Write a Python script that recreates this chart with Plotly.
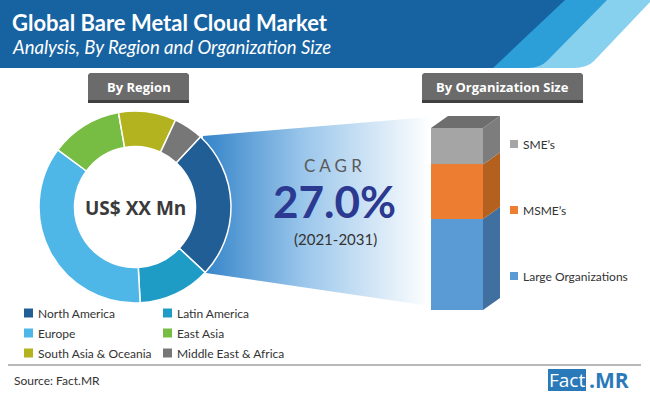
import plotly.graph_objects as go

# ---------------- data ----------------
regions = ["North America", "Latin America", "Europe", "East Asia",
           "South Asia & Oceania", "Middle East & Africa"]
region_share = [25.0, 12.2, 36.0, 12.1, 9.7, 5.0]
region_colors = ["#225e96", "#1f9cc6", "#4fb7e7", "#77bd43", "#b3b31f", "#777777"]

org_sizes = ["Large Organizations", "MSME\u2019s", "SME\u2019s"]
org_share = [50, 30, 20]
org_front = ["#5b9bd5", "#ed7d31", "#a5a5a5"]
org_side = ["#3f70a0", "#b4611f", "#7d7d7d"]
org_top = "#6e6e6e"

title = "Global Bare Metal Cloud Market"
subtitle = "Analysis, By Region and Organization Size"
center_label = "US$ XX Mn"
cagr_label = "C A G R"
cagr_value = "27.0%"
cagr_period = "(2021-2031)"
source = "Source: Fact.MR"

W, H = 650, 395
FONT_HEAD = "Lato"
FONT_BODY = "Lato"
FONT_BOX = "Open Sans"

fig = go.Figure()

# gradient funnel linking the North America slice to the bar
fig.add_trace(go.Scatter(
    x=[203, 430, 430, 206, 203], y=[136, 117, 306, 273, 136],
    xaxis="x2", yaxis="y2", mode="lines", line=dict(width=0),
    fill="toself",
    fillgradient=dict(type="horizontal", start=203, stop=430,
                      colorscale=[[0, "#3484c9"], [0.45, "#9cc7eb"], [1, "#ffffff"]]),
    hoverinfo="skip", showlegend=False))

# donut
fig.add_trace(go.Pie(
    labels=regions, values=region_share, sort=False, direction="clockwise",
    rotation=43, hole=0.63, textinfo="none", hoverinfo="label+percent",
    marker=dict(colors=region_colors, line=dict(color="white", width=1.5)),
    domain=dict(x=[38 / W, 232 / W], y=[1 - 303 / H, 1 - 111 / H]),
    showlegend=False))

# stacked bar (front faces)
BAR_X, BAR_W = 457, 52
for name, v, c in zip(org_sizes, org_share, org_front):
    fig.add_trace(go.Bar(x=[BAR_X], y=[v], width=BAR_W, name=name,
                         marker=dict(color=c, line=dict(width=0)),
                         xaxis="x", yaxis="y", showlegend=False))

shapes = []
annos = []

# header
shapes.append(dict(type="rect", xref="x2", yref="y2", x0=0, x1=650, y0=0, y1=68,
                   fillcolor="#1763a2", line=dict(width=0), layer="below"))
shapes.append(dict(type="path", xref="x2", yref="y2",
                   path="M 493,68 L 565,0 L 650,0 L 650,68 Z",
                   fillcolor="#2c9fd8", line=dict(width=0), layer="below"))
shapes.append(dict(type="path", xref="x2", yref="y2",
                   path="M 528,68 Q 540,68 547,61 L 607,0 L 650,0 L 650,68 Z",
                   fillcolor="#88d1ee", line=dict(width=0), layer="below"))
shapes.append(dict(type="path", xref="x2", yref="y2",
                   path="M 574,68 Q 587,68 594,61 L 652,0 L 652,68 Z",
                   fillcolor="#ffffff", line=dict(width=0), layer="below"))
annos.append(dict(x=10, y=22, xref="x2", yref="y2", text="<b>" + title + "</b>",
                  showarrow=False, xanchor="left", yanchor="middle",
                  font=dict(family=FONT_HEAD, size=22, color="white")))
annos.append(dict(x=10, y=47, xref="x2", yref="y2", text="<i>" + subtitle + "</i>",
                  showarrow=False, xanchor="left", yanchor="middle",
                  font=dict(family=FONT_HEAD, size=18.5, color="white")))


def rbox(x0, x1, y0, y1, r, color):
    return dict(type="path", xref="x2", yref="y2",
                path=(f"M {x0},{y1} L {x0},{y0 + r} Q {x0},{y0} {x0 + r},{y0} "
                      f"L {x1 - r},{y0} Q {x1},{y0} {x1},{y0 + r} L {x1},{y1} Z"),
                fillcolor=color, line=dict(width=0), layer="above")


for (x0, x1, label) in [(88, 189, "By Region"), (422, 583, "By Organization Size")]:
    shapes.append(rbox(x0, x1, 73, 103, 4, "#3f3f3f"))
    shapes.append(rbox(x0, x1, 73, 100, 4, "#6b6b6b"))
    annos.append(dict(x=(x0 + x1) / 2, y=87, xref="x2", yref="y2",
                      text="<b>" + label + "</b>", showarrow=False,
                      font=dict(family=FONT_BOX, size=13, color="white")))

# donut centre text
annos.append(dict(x=135, y=208, xref="x2", yref="y2", text="<b>" + center_label + "</b>",
                  showarrow=False, font=dict(family=FONT_BOX, size=19, color="#3a3a3a")))

# CAGR block
annos.append(dict(x=333, y=165, xref="x2", yref="y2", text=cagr_label, showarrow=False,
                  font=dict(family=FONT_HEAD, size=17, color="#5a5a5a")))
annos.append(dict(x=334, y=201, xref="x2", yref="y2", text="<b>" + cagr_value + "</b>",
                  showarrow=False, font=dict(family=FONT_HEAD, size=44, color="#2b3990")))
annos.append(dict(x=335, y=239, xref="x2", yref="y2", text=cagr_period, showarrow=False,
                  font=dict(family=FONT_HEAD, size=15, color="#333333")))

# region legend (2 columns)
for i, (name, col) in enumerate(zip(regions, region_colors)):
    cx = [24, 163][i % 2]
    cy = [313, 333, 353][i // 2]
    shapes.append(dict(type="rect", xref="x2", yref="y2", x0=cx, x1=cx + 9,
                       y0=cy - 4.5, y1=cy + 4.5, fillcolor=col, line=dict(width=0)))
    annos.append(dict(x=cx + 12, y=cy, xref="x2", yref="y2", text=name, showarrow=False,
                      xanchor="left", yanchor="middle",
                      font=dict(family=FONT_BODY, size=12, color="#333333")))

# 3D faces of the bar (in bar-axis units)
PX_PER_UNIT = 1.82
DX = 17
DY = 12 / PX_PER_UNIT
x1 = BAR_X + BAR_W / 2
x0 = BAR_X - BAR_W / 2
base = 0
for v, c in zip(org_share, org_side):
    top = base + v
    shapes.append(dict(type="path", xref="x", yref="y",
                       path=(f"M {x1},{base} L {x1 + DX},{base + DY} "
                             f"L {x1 + DX},{top + DY} L {x1},{top} Z"),
                       fillcolor=c, line=dict(width=0)))
    base = top
shapes.append(dict(type="path", xref="x", yref="y",
                   path=(f"M {x0},{base} L {x1},{base} L {x1 + DX},{base + DY} "
                         f"L {x0 + DX},{base + DY} Z"),
                   fillcolor=org_top, line=dict(width=0)))

# bar legend
for name, col, cy in zip(org_sizes, org_front, [276, 210, 144]):
    shapes.append(dict(type="rect", xref="x2", yref="y2", x0=510, x1=518,
                       y0=cy - 4, y1=cy + 4, fillcolor=col, line=dict(width=0)))
    annos.append(dict(x=521, y=cy, xref="x2", yref="y2", text=name, showarrow=False,
                      xanchor="left", yanchor="middle",
                      font=dict(family=FONT_BODY, size=12, color="#333333")))

# footer
shapes.append(dict(type="line", xref="x2", yref="y2", x0=8, x1=641, y0=365, y1=365,
                   line=dict(color="#a0a0a0", width=1.5)))
annos.append(dict(x=12, y=380, xref="x2", yref="y2", text=source, showarrow=False,
                  xanchor="left", yanchor="middle",
                  font=dict(family=FONT_BODY, size=12, color="#333333")))
shapes.append(dict(type="rect", xref="x2", yref="y2", x0=548, x1=586, y0=369, y1=391,
                   fillcolor="#2a7ab9", line=dict(width=0)))
annos.append(dict(x=567, y=380, xref="x2", yref="y2", text="Fact", showarrow=False,
                  font=dict(family=FONT_BOX, size=19, color="white")))
annos.append(dict(x=587, y=380, xref="x2", yref="y2", text="<b>.MR</b>", showarrow=False,
                  xanchor="left", yanchor="middle",
                  font=dict(family=FONT_BOX, size=21, color="#2a7ab9")))

fig.update_layout(
    width=W, height=H, margin=dict(l=0, r=0, t=0, b=0),
    paper_bgcolor="white", plot_bgcolor="rgba(0,0,0,0)",
    barmode="stack", bargap=0,
    xaxis=dict(domain=[420 / W, 520 / W], range=[420, 520], visible=False, fixedrange=True),
    yaxis=dict(domain=[1 - 310 / H, 1 - 100 / H], range=[0, 210 / PX_PER_UNIT],
               visible=False, fixedrange=True),
    xaxis2=dict(domain=[0, 1], range=[0, W], visible=False, anchor="y2", fixedrange=True),
    yaxis2=dict(domain=[0, 1], range=[H, 0], visible=False, anchor="x2", fixedrange=True),
    shapes=shapes, annotations=annos, showlegend=False,
)

fig.write_html("out.html", config=dict(displayModeBar=False),
               post_script="document.body.style.margin='0';")
